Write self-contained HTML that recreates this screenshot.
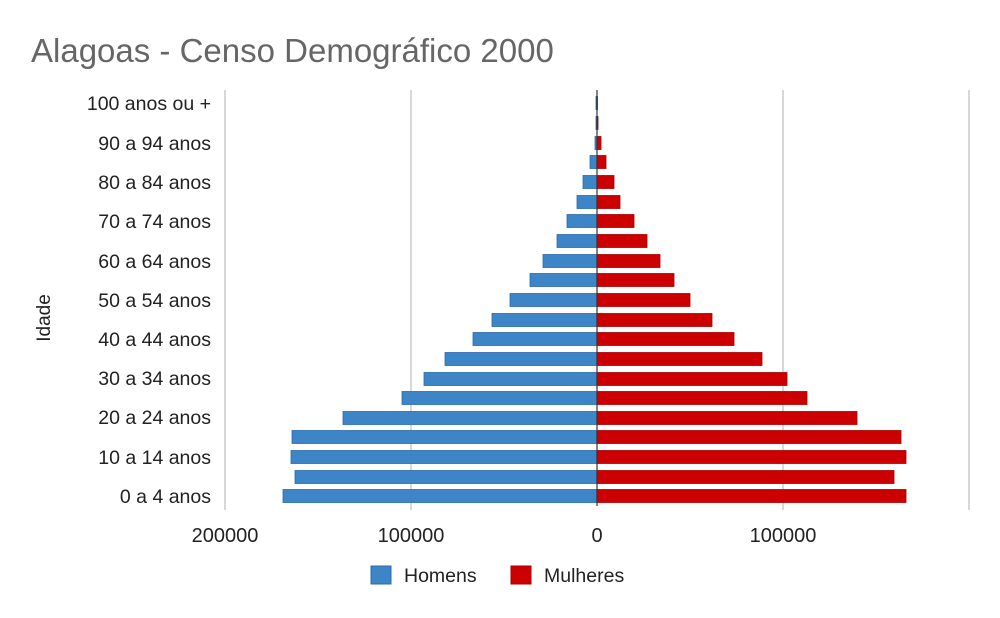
<!DOCTYPE html>
<html><head><meta charset="utf-8"><style>
body{margin:0;background:#fff;}
svg{display:block;font-family:"Liberation Sans",Arial,sans-serif;}
</style></head><body>
<svg width="1000" height="618" xmlns="http://www.w3.org/2000/svg">
<rect width="1000" height="618" fill="#fff"/>
<text x="31" y="62" font-size="33" fill="#666">Alagoas - Censo Demográfico 2000</text>
<g stroke="#ccc" stroke-width="1.5">
<line x1="225" y1="90" x2="225" y2="510"/>
<line x1="411" y1="90" x2="411" y2="510"/>
<line x1="783" y1="90" x2="783" y2="510"/>
<line x1="969" y1="90" x2="969" y2="510"/>
</g>
<g fill="#3d85c6" stroke="#2a6bad" stroke-width="0.8">
<rect x="596" y="96.5" width="1" height="13"/>
<rect x="596" y="116.5" width="1" height="13"/>
<rect x="595" y="136.5" width="2" height="13"/>
<rect x="590" y="155.5" width="7" height="13"/>
<rect x="583" y="175.5" width="14" height="13"/>
<rect x="577" y="195.5" width="20" height="13"/>
<rect x="567" y="214.5" width="30" height="13"/>
<rect x="557" y="234.5" width="40" height="13"/>
<rect x="543" y="254.5" width="54" height="13"/>
<rect x="530" y="273.5" width="67" height="13"/>
<rect x="510" y="293.5" width="87" height="13"/>
<rect x="492" y="313.5" width="105" height="13"/>
<rect x="473" y="332.5" width="124" height="13"/>
<rect x="445" y="352.5" width="152" height="13"/>
<rect x="424" y="372.5" width="173" height="13"/>
<rect x="402" y="391.5" width="195" height="13"/>
<rect x="343" y="411.5" width="254" height="13"/>
<rect x="292" y="430.5" width="305" height="13"/>
<rect x="291" y="450.5" width="306" height="13"/>
<rect x="295" y="470.5" width="302" height="13"/>
<rect x="283" y="489.5" width="314" height="13"/>
</g>
<g fill="#cc0000" stroke="#aa0000" stroke-width="0.8">
<rect x="597" y="96.5" width="0.5" height="13"/>
<rect x="597" y="116.5" width="1" height="13"/>
<rect x="597" y="136.5" width="4" height="13"/>
<rect x="597" y="155.5" width="9" height="13"/>
<rect x="597" y="175.5" width="17" height="13"/>
<rect x="597" y="195.5" width="23" height="13"/>
<rect x="597" y="214.5" width="37" height="13"/>
<rect x="597" y="234.5" width="50" height="13"/>
<rect x="597" y="254.5" width="63" height="13"/>
<rect x="597" y="273.5" width="77" height="13"/>
<rect x="597" y="293.5" width="93" height="13"/>
<rect x="597" y="313.5" width="115" height="13"/>
<rect x="597" y="332.5" width="137" height="13"/>
<rect x="597" y="352.5" width="165" height="13"/>
<rect x="597" y="372.5" width="190" height="13"/>
<rect x="597" y="391.5" width="210" height="13"/>
<rect x="597" y="411.5" width="260" height="13"/>
<rect x="597" y="430.5" width="304" height="13"/>
<rect x="597" y="450.5" width="309" height="13"/>
<rect x="597" y="470.5" width="297" height="13"/>
<rect x="597" y="489.5" width="309" height="13"/>
</g>
<line x1="597" y1="90" x2="597" y2="506" stroke="#333" stroke-width="1.2"/>
<g font-size="19.5" fill="#222" text-anchor="end">
<text x="211" y="110">100 anos ou +</text>
<text x="211" y="150">90 a 94 anos</text>
<text x="211" y="189">80 a 84 anos</text>
<text x="211" y="228">70 a 74 anos</text>
<text x="211" y="268">60 a 64 anos</text>
<text x="211" y="307">50 a 54 anos</text>
<text x="211" y="346">40 a 44 anos</text>
<text x="211" y="385">30 a 34 anos</text>
<text x="211" y="424">20 a 24 anos</text>
<text x="211" y="464">10 a 14 anos</text>
<text x="211" y="503">0 a 4 anos</text>
</g>
<g font-size="20" fill="#222" text-anchor="middle">
<text x="225" y="542">200000</text>
<text x="411" y="542">100000</text>
<text x="597" y="542">0</text>
<text x="783" y="542">100000</text>
</g>
<text transform="translate(50,318) rotate(-90)" font-size="19" fill="#222" text-anchor="middle">Idade</text>
<rect x="371" y="566" width="20" height="18" fill="#3d85c6" stroke="#2a6bad"/>
<text x="404" y="582" font-size="19.5" fill="#222">Homens</text>
<rect x="511" y="566" width="20" height="18" fill="#cc0000" stroke="#a00"/>
<text x="544" y="582" font-size="19.5" fill="#222">Mulheres</text>
</svg>
</body></html>
